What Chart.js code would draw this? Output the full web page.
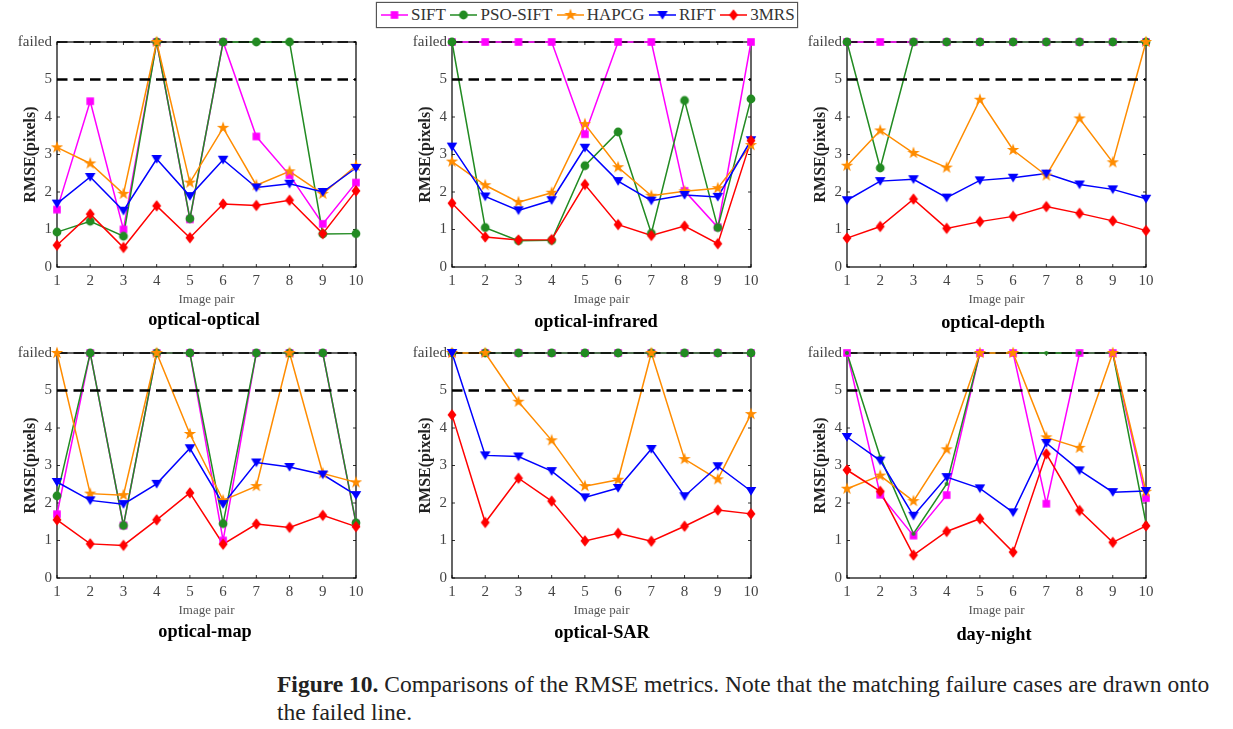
<!DOCTYPE html>
<html>
<head>
<meta charset="utf-8">
<title>Comparisons of the RMSE metrics</title>
<script src="https://cdn.jsdelivr.net/npm/chart.js@4"></script>
<style>
    body { margin: 0; background: #fff; font-family: "Liberation Serif", serif; }
    canvas { position: absolute; }
    #legend {
        position: absolute; left: 376px; top: 2px; width: 416px; height: 24px;
        border: 1px solid #555; box-shadow: 0 0 1px #555;
        display: flex; align-items: center; gap: 4.5px; padding-left: 4px; box-sizing: content-box;
        font-size: 17px; color: #333;
    }
    #legend div { display: flex; align-items: center; gap: 3px; }
    #legend canvas { position: static; }
    .panelTitle {
        position: absolute; transform: translate(-50%, -50%); white-space: nowrap;
        font-weight: bold; font-size: 18.3px; color: #000;
    }
    #caption {
        position: absolute; left: 277px; top: 670px; white-space: nowrap;
        font-size: 23.5px; line-height: 28px; color: #222;
    }
</style>
</head>
<body>
<div id="legend"></div>
<div id="caption"><b>Figure 10.</b> Comparisons of the RMSE metrics. Note that the matching failure cases are drawn onto<br>the failed line.</div>
<script>
// "failed" is drawn as a value of 6 on the y axis
const F = 6;

const imagePairs = ['1', '2', '3', '4', '5', '6', '7', '8', '9', '10'];
const yTickLabels = ['0', '1', '2', '3', '4', '5', 'failed'];
const seriesNames = ['SIFT', 'PSO-SIFT', 'HAPCG', 'RIFT', '3MRS'];
const threshold = [5, 5, 5, 5, 5, 5, 5, 5, 5, 5];
const failedLine = [F, F, F, F, F, F, F, F, F, F];

const opticalOpticalSift = [1.53, 4.42, 1.0, F, 1.27, F, 3.48, 2.45, 1.15, 2.25];
const opticalOpticalPso = [0.93, 1.22, 0.82, F, 1.29, F, F, F, 0.88, 0.89];
const opticalOpticalHapcg = [3.19, 2.76, 1.95, F, 2.25, 3.71, 2.18, 2.55, 1.95, 2.7];
const opticalOpticalRift = [1.69, 2.4, 1.5, 2.88, 1.89, 2.86, 2.12, 2.22, 2.0, 2.64];
const opticalOptical3mrs = [0.58, 1.41, 0.52, 1.63, 0.78, 1.68, 1.64, 1.78, 0.89, 2.03];

const opticalInfraredSift = [F, F, F, F, 3.54, F, F, 2.03, 1.06, F];
const opticalInfraredPso = [F, 1.05, 0.7, 0.71, 2.7, 3.6, 0.9, 4.44, 1.05, 4.48];
const opticalInfraredHapcg = [2.81, 2.18, 1.73, 1.98, 3.81, 2.66, 1.9, 2.02, 2.1, 3.25];
const opticalInfraredRift = [3.21, 1.88, 1.51, 1.78, 3.18, 2.29, 1.77, 1.92, 1.87, 3.38];
const opticalInfrared3mrs = [1.7, 0.8, 0.72, 0.73, 2.2, 1.13, 0.84, 1.09, 0.62, 3.37];

const opticalDepthSift = [F, F, F, F, F, F, F, F, F, F];
const opticalDepthPso = [F, 2.64, F, F, F, F, F, F, F, F];
const opticalDepthHapcg = [2.7, 3.64, 3.04, 2.65, 4.46, 3.12, 2.44, 3.96, 2.79, F];
const opticalDepthRift = [1.78, 2.29, 2.34, 1.85, 2.31, 2.38, 2.49, 2.2, 2.07, 1.82];
const opticalDepth3mrs = [0.77, 1.08, 1.81, 1.03, 1.21, 1.35, 1.61, 1.43, 1.23, 0.97];

const opticalMapSift = [1.7, F, 1.4, F, F, 1.0, F, F, F, 1.45];
const opticalMapPso = [2.19, F, 1.4, F, F, 1.45, F, F, F, 1.47];
const opticalMapHapcg = [F, 2.25, 2.21, F, 3.84, 2.07, 2.45, F, 2.79, 2.55];
const opticalMapRift = [2.56, 2.07, 1.97, 2.51, 3.46, 1.97, 3.08, 2.96, 2.76, 2.21];
const opticalMap3mrs = [1.55, 0.91, 0.87, 1.55, 2.27, 0.9, 1.44, 1.35, 1.67, 1.37];

const opticalSarSift = [F, F, F, F, F, F, F, F, F, F];
const opticalSarPso = [F, F, F, F, F, F, F, F, F, F];
const opticalSarHapcg = [F, F, 4.7, 3.67, 2.45, 2.62, F, 3.17, 2.63, 4.37];
const opticalSarRift = [F, 3.27, 3.24, 2.85, 2.15, 2.4, 3.44, 2.18, 2.98, 2.32];
const opticalSar3mrs = [4.35, 1.48, 2.66, 2.05, 0.99, 1.19, 0.98, 1.38, 1.81, 1.71];

const dayNightSift = [F, 2.22, 1.13, 2.21, F, F, 1.98, F, F, 2.13];
const dayNightPso = [F, 3.23, 1.18, 2.51, F, F, F, F, F, 1.46];
const dayNightHapcg = [2.38, 2.73, 2.05, 3.43, F, F, 3.75, 3.47, F, 2.3];
const dayNightRift = [3.76, 3.13, 1.66, 2.69, 2.39, 1.75, 3.6, 2.87, 2.29, 2.32];
const dayNight3mrs = [2.88, 2.31, 0.61, 1.24, 1.58, 0.69, 3.31, 1.8, 0.95, 1.39];

// Series styles, same order as seriesNames
const seriesColors = ['#ff00ff', '#228b22', '#ff8c00', '#0000ff', '#ff0000'];
const seriesMarkers = ['square', 'circle', 'star', 'triangle', 'diamond'];

// Panel placement on the page
const panels = [
    { name: 'optical-optical', left: 57, top: 40, titleX: 204, titleY: 319,
      values: [opticalOpticalSift, opticalOpticalPso, opticalOpticalHapcg, opticalOpticalRift, opticalOptical3mrs] },
    { name: 'optical-infrared', left: 452, top: 40, titleX: 596, titleY: 321,
      values: [opticalInfraredSift, opticalInfraredPso, opticalInfraredHapcg, opticalInfraredRift, opticalInfrared3mrs] },
    { name: 'optical-depth', left: 847, top: 40, titleX: 993, titleY: 322,
      values: [opticalDepthSift, opticalDepthPso, opticalDepthHapcg, opticalDepthRift, opticalDepth3mrs] },
    { name: 'optical-map', left: 57, top: 351, titleX: 205, titleY: 631,
      values: [opticalMapSift, opticalMapPso, opticalMapHapcg, opticalMapRift, opticalMap3mrs] },
    { name: 'optical-SAR', left: 452, top: 351, titleX: 602, titleY: 632,
      values: [opticalSarSift, opticalSarPso, opticalSarHapcg, opticalSarRift, opticalSar3mrs] },
    { name: 'day-night', left: 847, top: 351, titleX: 994, titleY: 634, smallCircle: true,
      values: [dayNightSift, dayNightPso, dayNightHapcg, dayNightRift, dayNight3mrs] }
];

const plotWidth = 299;
const plotHeight = 227;
const axisWidth = 57;
const axisHeight = 46;
const padTop = 12;
const padRight = 16;

// Draw one marker into a small canvas so it can be used as a pointStyle
function makeMarker(kind, color, small) {
    const c = document.createElement('canvas');
    c.width = 16;
    c.height = 16;
    const ctx = c.getContext('2d');
    ctx.fillStyle = color;
    ctx.translate(8, 8);
    ctx.beginPath();
    if (kind === 'square') {
        ctx.rect(-3.8, -3.8, 7.6, 7.6);
    } else if (kind === 'circle') {
        ctx.arc(0, 0, small ? 2 : 4.4, 0, Math.PI * 2);
    } else if (kind === 'triangle') {
        ctx.moveTo(-5.3, -4);
        ctx.lineTo(5.3, -4);
        ctx.lineTo(0, 4.8);
        ctx.closePath();
    } else if (kind === 'diamond') {
        ctx.moveTo(0, -5.8);
        ctx.lineTo(4.5, 0);
        ctx.lineTo(0, 5.8);
        ctx.lineTo(-4.5, 0);
        ctx.closePath();
    } else {
        for (let i = 0; i < 10; i++) {
            const r = i % 2 ? 2.6 : 6.5;
            const a = -Math.PI / 2 + i * Math.PI / 5;
            ctx.lineTo(r * Math.cos(a), r * Math.sin(a));
        }
        ctx.closePath();
    }
    ctx.fill();
    return c;
}

// Box around the plot with small ticks pointing inward
const boxPlugin = {
    id: 'box',
    beforeDatasetsDraw(chart) {
        const { ctx, chartArea: a, scales } = chart;
        ctx.save();
        ctx.strokeStyle = '#000';
        ctx.lineWidth = 1.2;
        ctx.strokeRect(a.left, a.top, a.width, a.height);
        ctx.lineWidth = 0.8;
        ctx.beginPath();
        scales.x.ticks.forEach((t, i) => {
            const x = scales.x.getPixelForTick(i);
            ctx.moveTo(x, a.bottom);
            ctx.lineTo(x, a.bottom - 3);
            ctx.moveTo(x, a.top);
            ctx.lineTo(x, a.top + 3);
        });
        scales.y.ticks.forEach((t, i) => {
            const y = scales.y.getPixelForTick(i);
            ctx.moveTo(a.left, y);
            ctx.lineTo(a.left + 3, y);
            ctx.moveTo(a.right, y);
            ctx.lineTo(a.right - 3, y);
        });
        ctx.stroke();
        ctx.restore();
    }
};

function buildDatasets(panel) {
    const lines = panel.values.map((data, i) => ({
        label: seriesNames[i],
        data: data,
        borderColor: seriesColors[i],
        borderWidth: 1.5,
        pointRadius: 0,
        clip: false,
        order: 20 - i
    }));
    const points = panel.values.map((data, i) => ({
        label: seriesNames[i] + ' markers',
        data: data,
        showLine: false,
        pointStyle: makeMarker(seriesMarkers[i], seriesColors[i], panel.smallCircle && i === 1),
        clip: false,
        order: 5 - i
    }));
    const dashed = [threshold, failedLine].map((data, i) => ({
        label: i ? 'failed' : 'threshold',
        data: data,
        borderColor: '#000',
        borderWidth: i ? 1.5 : 2.6,
        borderDash: [10.5, 6],
        pointRadius: 0,
        clip: false,
        order: 10
    }));
    return lines.concat(dashed, points);
}

panels.forEach(panel => {
    const canvas = document.createElement('canvas');
    canvas.width = axisWidth + plotWidth + padRight;
    canvas.height = padTop + plotHeight + axisHeight;
    canvas.style.left = (panel.left - axisWidth) + 'px';
    canvas.style.top = (panel.top - padTop) + 'px';
    document.body.appendChild(canvas);

    const title = document.createElement('div');
    title.className = 'panelTitle';
    title.textContent = panel.name;
    title.style.left = panel.titleX + 'px';
    title.style.top = panel.titleY + 'px';
    document.body.appendChild(title);

    new Chart(canvas.getContext('2d'), {
        type: 'line',
        data: { labels: imagePairs, datasets: buildDatasets(panel) },
        plugins: [boxPlugin],
        options: {
            responsive: false,
            animation: false,
            layout: { autoPadding: false, padding: { top: padTop, right: padRight } },
            plugins: { legend: { display: false }, tooltip: { enabled: false } },
            scales: {
                x: {
                    offset: false,
                    grid: { display: false, drawTicks: false },
                    border: { display: false },
                    afterFit: scale => { scale.height = axisHeight; },
                    ticks: {
                        autoSkip: false, maxRotation: 0, padding: 5, color: '#444',
                        font: { family: 'Liberation Serif', size: 15 }
                    },
                    title: {
                        display: true, text: 'Image pair', color: '#555',
                        font: { family: 'Liberation Serif', size: 13 },
                        padding: { top: 0, bottom: 6 }
                    }
                },
                y: {
                    min: 0,
                    max: F,
                    grid: { display: false, drawTicks: false },
                    border: { display: false },
                    afterFit: scale => { scale.width = axisWidth; },
                    ticks: {
                        stepSize: 1, padding: 5, color: '#444',
                        font: { family: 'Liberation Serif', size: 15 },
                        callback: value => yTickLabels[value]
                    },
                    title: {
                        display: true, text: 'RMSE(pixels)', color: '#222',
                        font: { family: 'Liberation Serif', size: 16, weight: 'bold' },
                        padding: { top: 21, bottom: 0 }
                    }
                }
            }
        }
    });
});

// Legend with a line and marker sample for each series
const legendBox = document.getElementById('legend');
seriesNames.forEach((name, i) => {
    const entry = document.createElement('div');
    const sample = document.createElement('canvas');
    sample.width = 27;
    sample.height = 16;
    const ctx = sample.getContext('2d');
    ctx.strokeStyle = seriesColors[i];
    ctx.lineWidth = 1.5;
    ctx.beginPath();
    ctx.moveTo(0, 8);
    ctx.lineTo(27, 8);
    ctx.stroke();
    ctx.drawImage(makeMarker(seriesMarkers[i], seriesColors[i]), 5.5, 0);
    const text = document.createElement('span');
    text.textContent = name;
    entry.appendChild(sample);
    entry.appendChild(text);
    legendBox.appendChild(entry);
});
</script>
</body>
</html>
